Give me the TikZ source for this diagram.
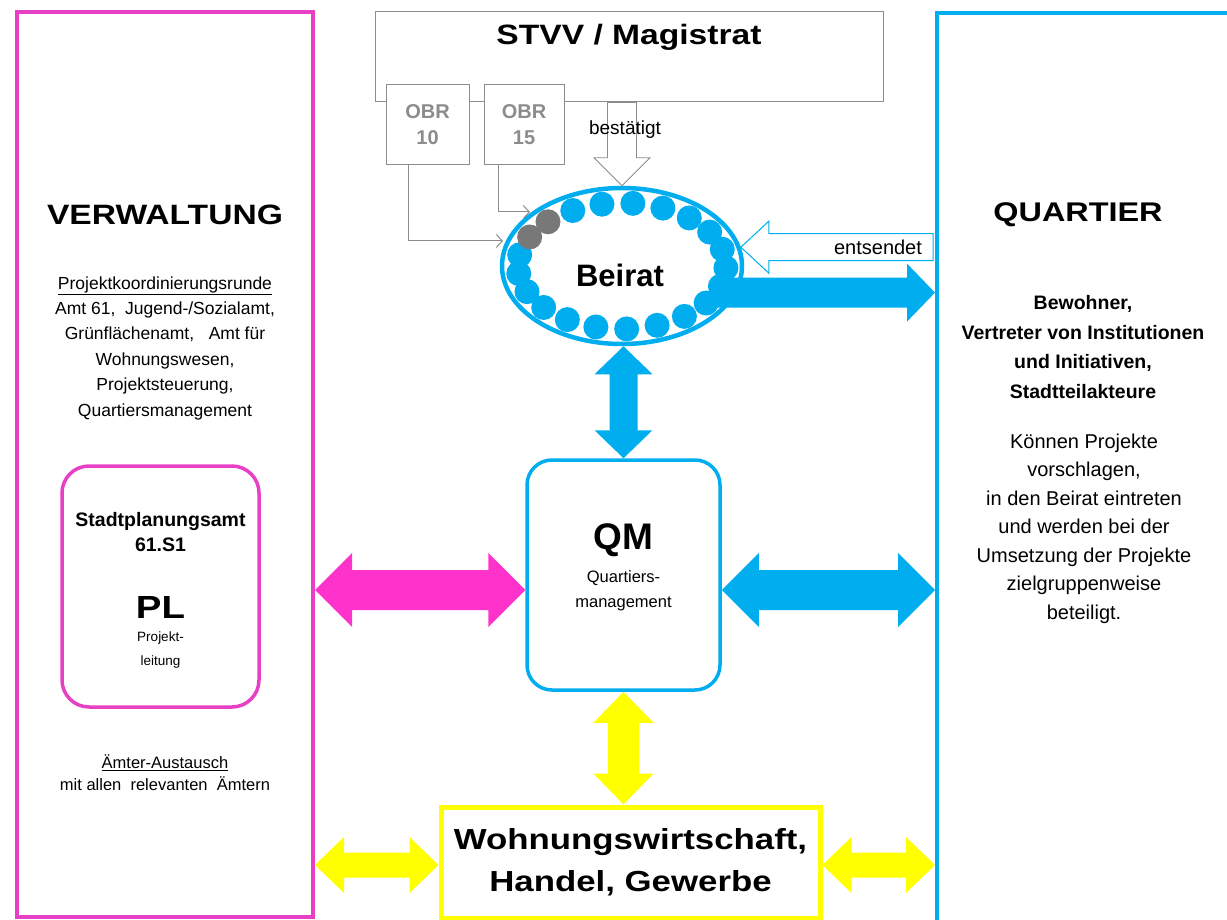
\documentclass[tikz,border=0pt]{standalone}
\usepackage{fontspec}
\setmainfont{Liberation Sans}
\newfontfamily\widesf{Liberation Sans}[FakeStretch=1.2]
\usepackage{tikz}
\usetikzlibrary{shapes,arrows.meta,positioning,calc}

\definecolor{pinkline}{RGB}{232,64,196}
\definecolor{pinkfill}{RGB}{255,51,204}
\definecolor{qblue}{RGB}{0,174,239}
\definecolor{qyellow}{RGB}{255,255,0}
\definecolor{obrgray}{RGB}{140,140,140}
\definecolor{dotgray}{RGB}{120,120,120}

\newcommand{\txtsize}[2]{\fontsize{#1}{#2}\selectfont}

% block arrow with two heads: style, from, to, half shaft, half head, head length
\newcommand{\dblarrow}[6]{%
	\coordinate (ha) at ($(#2)!#6!(#3)$);
	\coordinate (hb) at ($(#3)!#6!(#2)$);
	\path[#1] (#2) -- ($(ha)!#5!90:(#3)$) -- ($(ha)!#4!90:(#3)$)
		-- ($(hb)!#4!-90:(#2)$) -- ($(hb)!#5!-90:(#2)$) -- (#3)
		-- ($(hb)!#5!90:(#2)$) -- ($(hb)!#4!90:(#2)$)
		-- ($(ha)!#4!-90:(#3)$) -- ($(ha)!#5!-90:(#3)$) -- cycle;}

% block arrow with one head
\newcommand{\onearrow}[6]{%
	\coordinate (hb) at ($(#3)!#6!(#2)$);
	\path[#1] ($(#2)!#4!-90:(#3)$) -- ($(hb)!#4!90:(#2)$) -- ($(hb)!#5!90:(#2)$) -- (#3)
		-- ($(hb)!#5!-90:(#2)$) -- ($(hb)!#4!-90:(#2)$) -- ($(#2)!#4!90:(#3)$) -- cycle;}

\begin{document}
\begin{tikzpicture}[x=1pt, y=-1pt]
		\tikzstyle{Frame}	= [draw, line width=4pt, inner sep=0pt]
		\tikzstyle{GrayBox}	= [draw=obrgray, line width=1pt, fill=white, inner sep=0pt]
		\tikzstyle{OBR}		= [minimum height=80pt, align=center, text=obrgray, font={\txtsize{20}{26}\bfseries}]
		\tikzstyle{Round}	= [draw, line width=3.5pt, rounded corners=27pt, fill=white, inner sep=0pt]
		\tikzstyle{Txt}		= [align=center, inner sep=0pt]
		\tikzstyle{Link}	= [draw=obrgray, line width=1pt, -{Straight Barb[length=6pt, width=13pt]}]
		\tikzstyle{BlueFill}	= [fill=qblue]
		\tikzstyle{PinkFill}	= [fill=pinkfill]
		\tikzstyle{YellowFill}	= [fill=qyellow]
		\tikzstyle{GrayHollow}	= [draw=obrgray, line width=0.8pt, fill=white]
		\tikzstyle{BlueHollow}	= [draw=qblue, line width=1pt, fill=white]

		\useasboundingbox (0,0) rectangle (1227,920);

		\node (verw) at (165,464.5) [Frame, draw=pinkline, minimum width=296pt, minimum height=905pt] {};
		\node (quart) at (1088,471) [Frame, draw=qblue, minimum width=302pt, minimum height=916pt] {};
		\node (stvv) at (629,57) [GrayBox, minimum width=508pt, minimum height=90pt] {};
		\node (obr10) at (427.5,125) [GrayBox, OBR, minimum width=83pt] {OBR\\10};
		\node (obr15) at (524,125) [GrayBox, OBR, minimum width=80pt] {OBR\\15};
		\node (qm) at (623.5,575) [Round, draw=qblue, rounded corners=25pt, minimum width=193pt, minimum height=230pt] {};
		\node (pl) at (160.5,586.5) [Round, draw=pinkline, minimum width=197pt, minimum height=241pt] {};
		\node (wohn) at (630.5,862.5) [Frame, draw=qyellow, line width=5pt, fill=white, minimum width=379pt, minimum height=111pt, align=center, font={\widesf\txtsize{29}{42}\bfseries}] {Wohnungswirtschaft,\\Handel, Gewerbe};
		\node (beirat) at (622,266) [ellipse, draw=qblue, line width=4.5pt, fill=white, minimum width=240pt, minimum height=156pt, inner sep=0pt] {};

		% Beirat members
		\foreach \k in {0,...,20} {
			\pgfmathsetmacro{\ang}{135.4-17.14*\k}
			\ifnum\k=0 \def\dotcol{dotgray}\else\ifnum\k=20 \def\dotcol{dotgray}\else\def\dotcol{qblue}\fi\fi
			\fill[\dotcol] ($(beirat.center)+(\ang:104pt and 63pt)$) circle (12.5pt);
		}

		% texts
		\node (stvvlabel) at (629,37) [Txt, font={\widesf\txtsize{28}{32}\bfseries}] {STVV / Magistrat};
		\node (verwtitle) at (165,215) [Txt, font={\widesf\txtsize{28}{32}\bfseries}] {VERWALTUNG};
		\node (verwtext) at (165,348) [Txt, font={\txtsize{17.5}{25.4}}] {\underline{Projektkoordinierungsrunde}\\Amt 61,\ \ Jugend-/Sozialamt,\\Grünflächenamt,\ \ \ Amt für\\Wohnungswesen,\\Projektsteuerung,\\Quartiersmanagement};
		\node (plhead) at (160.5,532) [Txt, font={\txtsize{19.5}{25}\bfseries}] {Stadtplanungsamt\\61.S1};
		\node (pltitle) at (160.5,607) [Txt, font={\widesf\txtsize{32}{36}\bfseries}] {PL};
		\node (plsub) at (160.5,650) [Txt, font={\txtsize{13.5}{24}}] {Projekt-\\leitung};
		\node (aemter) at (165,772.5) [Txt, font={\txtsize{16.5}{22}}] {\underline{Ämter-Austausch}\\mit allen\ \ relevanten\ \ Ämtern};
		\node (quarttitle) at (1078,215) [Txt, font={\widesf\txtsize{27}{32}\bfseries}] {QUARTIER};
		\node (quartbold) at (1083,347) [Txt, font={\txtsize{19.5}{29.5}\bfseries}] {Bewohner,\\Vertreter von Institutionen\\und Initiativen,\\Stadtteilakteure};
		\node (quarttext) at (1084,528.5) [Txt, font={\txtsize{20}{28.5}}] {Können Projekte\\vorschlagen,\\in den Beirat eintreten\\und werden bei der\\Umsetzung der Projekte\\zielgruppenweise\\beteiligt.};
		\node (beiratlabel) at (620,275) [Txt, font={\txtsize{31}{36}\bfseries}] {Beirat};
		\node (qmtitle) at (623.5,540) [Txt, font={\txtsize{37}{40}\bfseries}] {QM};
		\node (qmsub) at (623.5,591) [Txt, font={\txtsize{16.5}{25}}] {Quartiers-\\management};

		% OBR links
		\coordinate (in10) at (503,241);
		\coordinate (in15) at (530,212);
		\draw [Link] ([xshift=-19.5pt]obr10.south) |- (in10);
		\draw [Link] ([xshift=-26pt]obr15.south) |- (in15);

		% hollow arrows
		\coordinate (bt) at (stvv.south -| beirat.north);
		\onearrow{GrayHollow}{bt}{beirat.north}{14.5pt}{28pt}{28pt}
		\coordinate (et) at ($(quart.west |- beirat.9)+(-2,0)$);
		\onearrow{BlueHollow}{et}{beirat.9}{13.5pt}{26pt}{28pt}
		\node (bestlabel) at (625,130) [Txt, font={\txtsize{19}{22}}] {bestätigt};
		\node (entlabel) at (878,247) [Txt, font={\txtsize{20}{24}}] {entsendet};

		% filled arrows
		\coordinate (bq0) at ([xshift=-20pt]beirat.-13);
		\coordinate (bq) at (quart.west |- beirat.-13);
		\onearrow{BlueFill}{bq0}{bq}{15pt}{29pt}{28pt}

		\coordinate (bs) at (beirat.south -| qm.north);
		\dblarrow{BlueFill}{bs}{qm.north}{14pt}{29pt}{28pt}

		\coordinate (mrow) at (0,590);
		\coordinate (ml) at (verw.east |- mrow);
		\coordinate (mr) at (qm.west |- mrow);
		\dblarrow{PinkFill}{ml}{mr}{20pt}{37pt}{37pt}
		\coordinate (cl) at (qm.east |- mrow);
		\coordinate (cr) at (quart.west |- mrow);
		\dblarrow{BlueFill}{cl}{cr}{20pt}{37pt}{37pt}

		\coordinate (yn) at (qm.south |- wohn.north);
		\dblarrow{YellowFill}{qm.south}{yn}{15.5pt}{30pt}{31pt}

		\coordinate (yrow) at (0,865);
		\coordinate (yl1) at (verw.east |- yrow);
		\coordinate (yl2) at (wohn.west |- yrow);
		\coordinate (yr1) at (wohn.east |- yrow);
		\coordinate (yr2) at (quart.west |- yrow);
		\dblarrow{YellowFill}{yl1}{yl2}{12.5pt}{28pt}{29pt}
		\dblarrow{YellowFill}{yr1}{yr2}{12.5pt}{28pt}{29pt}
	\end{tikzpicture}
\end{document}
